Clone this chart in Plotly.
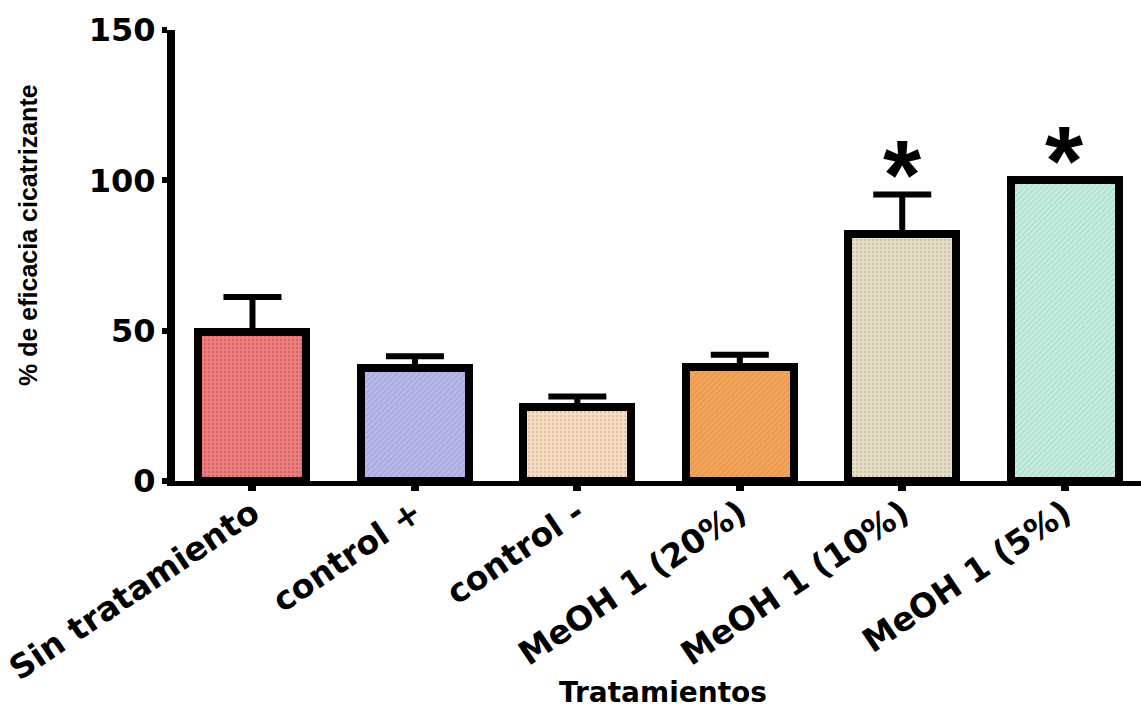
import plotly.graph_objects as go

# Treatment groups and wound-healing efficacy (%), mean and upper SEM
categories = ["Sin tratamiento", "control +", "control -",
              "MeOH 1 (20%)", "MeOH 1 (10%)", "MeOH 1 (5%)"]
efficacy = [49.5, 37.5, 24.5, 38.0, 82.0, 100.0]
sem = [11.7, 4.0, 3.6, 4.0, 13.3, 0.0]
significant = [False, False, False, False, True, True]

y_ticks = [0, 50, 100, 150]

bar_colors = ["#F27C7C", "#B9B9EC", "#F9DCC2", "#F5A65C", "#E7DFC6", "#C6EEDF"]
dot_colors = ["#8A5050", "#7A7AB0", "#B8A088", "#C07030", "#A09880", "#80B0A0"]
shapes = [".", "/", ".", "/", ".", "/"]

BOLD = "DejaVu Sans"
ARIAL = "Liberation Sans"

fig = go.Figure()

for i, cat in enumerate(categories):
    fig.add_trace(go.Bar(
        x=[cat],
        y=[efficacy[i]],
        width=0.665,
        marker=dict(
            color=bar_colors[i],
            line=dict(color="black", width=8),
            pattern=dict(shape=shapes[i], fgcolor=dot_colors[i],
                         fgopacity=0.45, size=4, solidity=0.25),
        ),
        error_y=dict(type="data", symmetric=False,
                     array=[sem[i]], arrayminus=[0],
                     color="black", thickness=6, width=29),
        showlegend=False,
    ))

# significance marks above the treated groups
for i, cat in enumerate(categories):
    if significant[i]:
        fig.add_annotation(x=cat, y=efficacy[i] + sem[i], yref="y",
                           text="<b>*</b>", showarrow=False,
                           yanchor="bottom", yshift=-38,
                           font=dict(family=ARIAL, size=98, color="black"))

fig.add_annotation(x=0.505, y=-0.468, xref="paper", yref="paper",
                   text="<b>Tratamientos</b>", showarrow=False,
                   yanchor="middle",
                   font=dict(family=BOLD, size=28, color="black"))
fig.add_annotation(x=-0.152, y=0.546, xref="paper", yref="paper",
                   text="<b>% de eficacia cicatrizante</b>", showarrow=False,
                   textangle=-90, xanchor="center", yanchor="middle",
                   font=dict(family=ARIAL, size=25, color="black"))

fig.update_layout(
    width=1141, height=709,
    margin=dict(l=175, r=0, t=30, b=228),
    plot_bgcolor="white", paper_bgcolor="white",
    bargap=0,
    xaxis=dict(
        type="category",
        range=[-0.477, 5.47],
        showline=True, linecolor="black", linewidth=5,
        ticks="outside", ticklen=5, tickwidth=8, tickcolor="black",
        tickangle=-34,
        ticklabelstandoff=-10,
        tickfont=dict(family=BOLD, size=33, color="black"),
        showgrid=False, zeroline=False,
    ),
    yaxis=dict(
        range=[0, 150],
        tickvals=y_ticks,
        ticktext=[f"<b>{v}</b>" for v in y_ticks],
        showline=True, linecolor="black", linewidth=8,
        ticks="outside", ticklen=5, tickwidth=6, tickcolor="black",
        tickfont=dict(family=BOLD, size=32, color="black"),
        showgrid=False, zeroline=False,
    ),
)

fig.update_xaxes(ticktext=[f"<b>{c}</b>" for c in categories],
                 tickvals=categories)

fig.write_html("out.html")
